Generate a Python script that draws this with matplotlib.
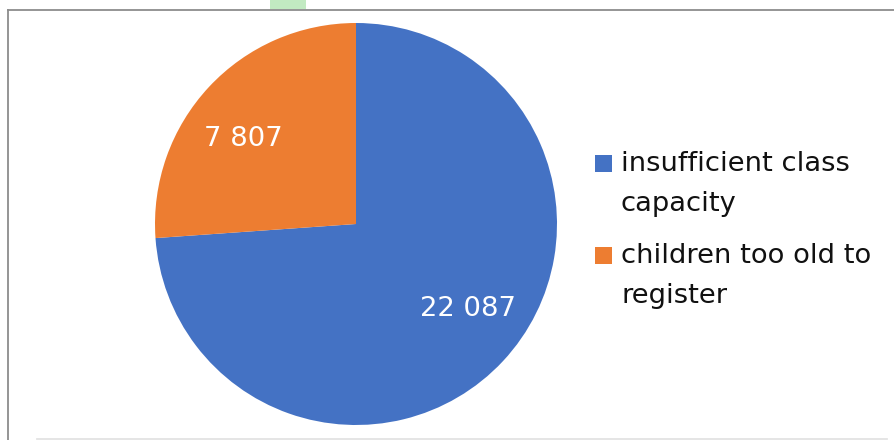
import numpy as np
import matplotlib.pyplot as plt
from matplotlib.patches import Rectangle
from matplotlib.lines import Line2D

categorias = ["insufficient class\ncapacity", "children too old to\nregister"]
valores = [22087, 7807]
cores = ["#4472C4", "#ED7D31"]

total = sum(valores)


def rotulo(p):
    v = int(round(p * total / 100.0))
    return f"{v:,}".replace(",", " ")


fig = plt.figure(figsize=(8.94, 4.4), dpi=100)
W, H = 894, 440

# moldura do grafico
fig.add_artist(Rectangle((270 / W, 1 - 9 / H), 36 / W, 9 / H, transform=fig.transFigure,
                         color="#c2eac2", lw=0))
fig.add_artist(Line2D([8 / W, 1], [1 - 10 / H, 1 - 10 / H], color="#8c8c8c", lw=1.3))
fig.add_artist(Line2D([8 / W, 8 / W], [0, 1 - 10 / H], color="#8c8c8c", lw=1.3))
fig.add_artist(Line2D([37 / W, 887 / W], [1.2 / H, 1.2 / H], color="#e3e3e3", lw=1.3))

# pizza
cx, cy, r = 356, 224, 201
ax = fig.add_axes([(cx - r) / W, (H - cy - r) / H, 2 * r / W, 2 * r / H])
wedges, textos, autotextos = ax.pie(valores, colors=cores, startangle=90, counterclock=False,
                                    autopct=rotulo, pctdistance=0.7,
                                    textprops=dict(color="white", fontsize=19.7))
# rotulos um pouco deslocados no sentido anti-horario, como no original
for w, t in zip(wedges, autotextos):
    ang = np.deg2rad((w.theta1 + w.theta2) / 2 + 6)
    t.set_position((0.7 * np.cos(ang), 0.7 * np.sin(ang)))
ax.set_xlim(-1, 1)
ax.set_ylim(-1, 1)
ax.set_aspect("auto")
ax.axis("off")

# legenda manual (quadrado alinhado com a primeira linha)
y0 = 163
for i, (cat, cor) in enumerate(zip(categorias, cores)):
    y = y0 + i * 92
    fig.add_artist(Rectangle((595 / W, 1 - (y + 9) / H), 17 / W, 17 / H,
                             transform=fig.transFigure, color=cor, lw=0))
    fig.text(621 / W, 1 - (y - 12) / H, cat, fontsize=19.7, color="#111111",
             va="top", ha="left", linespacing=1.68)

fig.savefig("out.png", dpi=100)
